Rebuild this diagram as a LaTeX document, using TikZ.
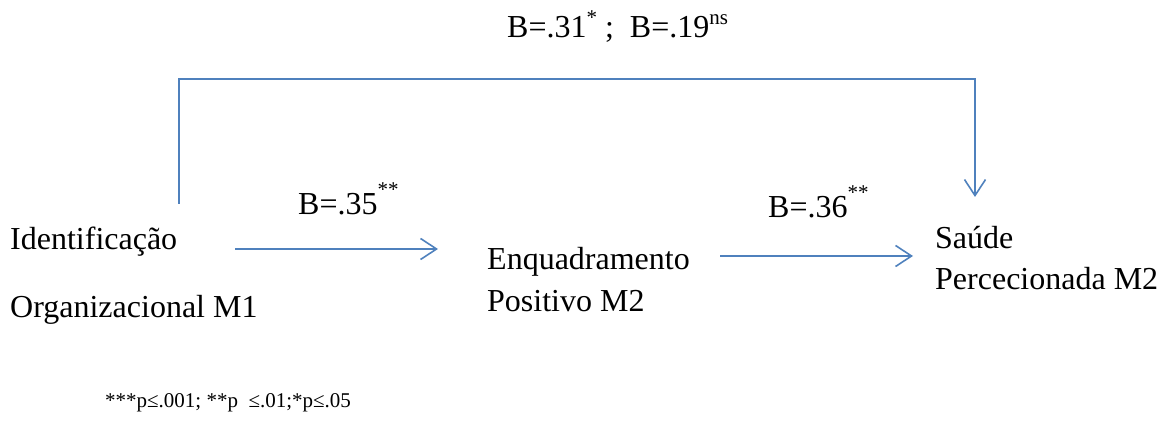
\documentclass[tikz,border=0pt]{standalone}
\usepackage{fontspec}
\setmainfont{Liberation Serif}
\usetikzlibrary{arrows.meta}
\definecolor{lineblue}{HTML}{4F81BD}
\newcommand{\supx}[1]{\raisebox{0.42em}{\fontsize{21}{24}\selectfont #1}}
\tikzset{
  lbl/.style={inner sep=0pt, anchor=base west, font=\fontsize{32}{38}\selectfont},
  note/.style={inner sep=0pt, anchor=base west, font=\fontsize{21}{25}\selectfont},
  conn/.style={draw=lineblue, line width=1.7pt, -{Straight Barb[length=16pt, width=21pt, line width=1.6pt]}}
}
\begin{document}
\begin{tikzpicture}[x=1pt,y=1pt]
\useasboundingbox (0,0) rectangle (1163,-427);
% labels
\node[lbl] (top) at (507,-38) {B=.31\supx{*}\ ;\ \ B=.19\supx{ns}};
\node[lbl] (b1) at (298,-215) {B=.35\raisebox{0.15em}{\supx{**}}};
\node[lbl] (b2) at (768,-218) {B=.36\raisebox{0.15em}{\supx{**}}};
% variables
\node[lbl] (id1) at (10,-250) {Identificação};
\node[lbl] (id2) at (10,-318) {Organizacional M1};
\node[lbl] (en1) at (487,-270) {Enquadramento};
\node[lbl] (en2) at (487,-312) {Positivo M2};
\node[lbl] (sa1) at (935,-249) {Saúde};
\node[lbl] (sa2) at (935,-290) {Percecionada M2};
\node[note] (fn) at (105,-408) {***p≤.001; **p\ \ ≤.01;*p≤.05};
% connector points
\coordinate (a1s) at (235,-249);
\coordinate (a1e) at (438,-249);
\coordinate (a2s) at (720,-256);
\coordinate (a2e) at (913,-256);
\coordinate (ts) at (179,-204);
\coordinate (tc1) at (179,-79);
\coordinate (tc2) at (975,-79);
\coordinate (te) at (975,-197);
% connectors
\draw[conn] (a1s) -- (a1e);
\draw[conn] (a2s) -- (a2e);
\draw[conn] (ts) -- (tc1) -- (tc2) -- (te);
\end{tikzpicture}
\end{document}
